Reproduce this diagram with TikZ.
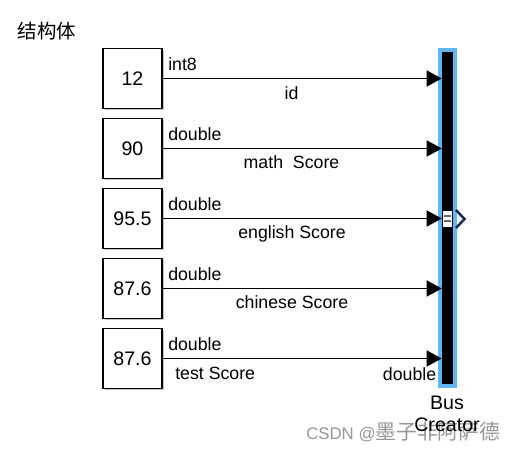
\documentclass[tikz,border=0pt]{standalone}
\usepackage{fontspec}
\setmainfont{Liberation Sans}
\newfontfamily\cjk{Noto Sans CJK SC}
\usetikzlibrary{arrows.meta,shadows}
\definecolor{busblue}{RGB}{95,182,240}
\definecolor{navy}{RGB}{20,45,90}
\definecolor{wmgray}{RGB}{150,150,150}
\tikzset{
  constbox/.style={draw=black, line width=1.1pt, fill=white, minimum width=44.25pt, minimum height=45pt, inner sep=0pt,
    font=\fontsize{14.7}{17}\selectfont,
    drop shadow={shadow xshift=1.2pt, shadow yshift=-1.2pt, fill=black!50, opacity=.45}},
  sig/.style={line width=1pt, -{Triangle[length=11.25pt,width=12pt]}},
  typelab/.style={anchor=base west, inner sep=0pt, font=\fontsize{13.3}{15}\selectfont},
  namelab/.style={anchor=base, inner sep=0pt, font=\fontsize{13.3}{15}\selectfont},
  buslab/.style={anchor=base, inner sep=0pt, font=\fontsize{14.7}{17}\selectfont},
}
\begin{document}
\begin{tikzpicture}[x=0.75pt,y=-0.75pt]
\useasboundingbox (0,0) rectangle (513,453);
% title
\node[anchor=west, inner sep=0pt, font=\cjk\fontsize{14.6}{17}\selectfont] (title) at (17.5,31.5) {结构体};
% watermark
\node[anchor=base west, inner sep=0pt, text=wmgray] (wm) at (306,439)
  {\fontsize{12.6}{15}\selectfont CSDN @\cjk\fontsize{15.6}{17}\selectfont 墨子非阿萨德};
% bus creator
\node[fill=busblue, minimum width=14.25pt, minimum height=255pt, inner sep=0pt] (busframe) at (447.5,218) {};
\node[fill=black, minimum width=8.25pt, minimum height=249pt, inner sep=0pt] (bar) at (447.5,218) {};
\node[fill=white, minimum width=6.75pt, minimum height=12pt, inner sep=0pt] (icon) at (447.2,218.7) {};
\draw[black!60, line width=1.4pt] ([xshift=-2.6pt,yshift=1.8pt]icon.center) -- ([xshift=2.6pt,yshift=1.8pt]icon.center)
  ([xshift=-2.6pt,yshift=-1.8pt]icon.center) -- ([xshift=2.6pt,yshift=-1.8pt]icon.center);
\coordinate (outtop) at (456,210);
\coordinate (outtip) at (464.5,219);
\coordinate (outbot) at (456,228);
\draw[navy, line width=1.9pt, line join=miter] (outtop) -- (outtip) -- (outbot);
\node[buslab] (buslabel) at (447,409) {Bus};
\node[buslab] (creatorlabel) at (447,431) {Creator};
% constant blocks
\node[constbox] (b1) at (132.5,78.5) {12};
\node[constbox] (b2) at (132.5,148.5) {90};
\node[constbox] (b3) at (132.5,218.5) {95.5};
\node[constbox] (b4) at (132.5,288.5) {87.6};
\node[constbox] (b5) at (132.5,358.5) {87.6};
% signals
\foreach \i in {1,...,5}{
  \draw[sig] (b\i.east) -- (bar.west |- b\i.east);
}
% type labels
\node[typelab] (t1) at (168,70) {int8};
\node[typelab] (t2) at (168,140) {double};
\node[typelab] (t3) at (168,210) {double};
\node[typelab] (t4) at (168,280) {double};
\node[typelab] (t5) at (168,350) {double};
% signal names
\node[namelab] (n1) at (291.5,99) {id};
\node[namelab] (n2) at (291.5,168) {math\ \ Score};
\node[namelab] (n3) at (292,238) {english Score};
\node[namelab] (n4) at (292,308) {chinese Score};
\node[typelab] (n5) at (175,379) {test Score};
\node[anchor=base east, inner sep=0pt, font=\fontsize{13.3}{15}\selectfont] (outtype) at (436.5,380) {double};
\end{tikzpicture}
\end{document}
